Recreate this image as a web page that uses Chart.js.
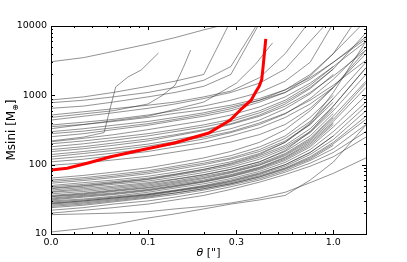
<!DOCTYPE html>
<html>
<head>
<meta charset="utf-8">
<script src="https://cdn.jsdelivr.net/npm/chart.js@4"></script>
<style>
  html, body { margin: 0; padding: 0; background: #fff; }
  canvas { display: block; }
</style>
</head>
<body>
<canvas id="myChart" width="407" height="262"></canvas>
<script>
// separation grid used by the gray tracks (arcsec)
const thetaGrid = [0.03, 0.045, 0.065, 0.1, 0.14, 0.2, 0.28, 0.4, 0.55, 0.75, 1.0, 1.5]

// gray tracks, Msini values on thetaGrid (shorter arrays = track ends early)
const upperTracks = [
    [3055, 3500, 4300, 5500, 6800, 8800, 11000],
    [857, 950, 1100, 1350, 1600, 2000, 12000],
    [783, 850, 950, 1100, 1300, 1650, 2600, 12000],
    [650, 700, 800, 950, 1100, 1350, 2000, 11000],
    [520, 580, 640, 720, 800, 950, 1150, 1800, 4000, 12000],
    [440, 500, 560, 650, 750, 900, 1100, 1500, 2400, 6000, 14000],
    [373, 410, 450, 520, 600, 700, 850, 1100, 1600, 3000, 11000],
    [353, 380, 420, 480, 550, 620, 720, 900, 1200, 1800, 3000, 7000],
    [299, 330, 370, 420, 480, 560, 680, 850, 1100, 1700, 3000, 6500],
    [280, 305, 340, 390, 450, 530, 640, 850, 1200, 2000, 4000, 12000],
    [253, 280, 320, 370, 430, 500, 600, 800, 1100, 1900, 4000, 20000],
    [214, 240, 270, 320, 370, 430, 520, 680, 950, 1500, 2600, 6000],
    [200, 220, 245, 280, 320, 375, 450, 600, 850, 1400, 2600],
    [181, 200, 225, 260, 300, 350, 420, 560, 800, 1300, 2400],
    [165, 182, 205, 235, 270, 320, 390, 520, 750, 1250, 2400, 8000],
    [154, 170, 190, 220, 260, 310, 380, 500, 700, 1100, 1900, 4500],
    [140, 155, 172, 198, 230, 270, 330, 440, 640, 1050, 2000],
    [130, 145, 160, 185, 215, 250, 300, 400, 550, 850, 1400, 3200],
    [120, 132, 147, 170, 198, 235, 290, 380, 540, 900, 1700, 5000],
    [110, 120, 135, 155, 180, 210, 260, 340, 480, 750, 1300],
    [98, 106, 117, 132, 152, 177, 212, 272, 380, 650, 1300, 4500]
]
const lowerTracks = [
    [64, 70, 78, 90, 105, 125, 155, 210, 320, 600, 1300, 4000],
    [60, 65, 72, 82, 95, 112, 135, 180, 260, 480, 1000],
    [57, 62, 68, 78, 90, 105, 125, 165, 240, 420, 900, 3000],
    [54, 59, 65, 74, 85, 100, 120, 155, 220, 380, 800],
    [50, 55, 60, 68, 78, 92, 110, 145, 210, 400, 1100, 6000],
    [48, 52, 57, 64, 73, 86, 102, 135, 190, 330, 700, 2500],
    [46, 50, 55, 62, 72, 85, 105, 140, 210, 380, 900],
    [45, 49, 54, 61, 70, 82, 98, 128, 180, 300, 650],
    [43, 47, 52, 58, 66, 77, 92, 120, 170, 290, 600, 2000],
    [41, 45, 49, 55, 62, 72, 86, 110, 155, 260, 550],
    [40, 43, 47, 53, 61, 71, 85, 110, 160, 300, 700, 2500],
    [38, 41, 45, 51, 58, 68, 80, 104, 145, 240, 500, 1600],
    [36, 39, 43, 49, 56, 65, 78, 100, 140, 230, 480],
    [35, 38, 42, 47, 54, 63, 76, 98, 135, 220, 450, 1500],
    [34.5, 37, 41, 46, 52, 60, 72, 92, 128, 210, 420, 1300],
    [33, 36, 39, 44, 50, 58, 70, 90, 125, 200, 400],
    [32, 35, 38, 43, 49, 57, 68, 88, 120, 190, 380],
    [31, 34, 37, 42, 48, 56, 67, 85, 115, 180, 350, 1000],
    [30, 32, 35, 40, 46, 53, 63, 80, 108, 165, 300, 800],
    [29, 31, 34, 38, 43, 50, 60, 76, 100, 150, 260],
    [28, 30, 33, 37, 42, 48, 57, 72, 95, 140, 230, 600],
    [27.5, 30, 33, 37, 42, 49, 58, 74, 100, 150, 260, 700],
    [27, 29, 32, 36, 41, 47, 55, 69, 90, 130, 210, 500],
    [26, 28, 31, 35, 39, 45, 53, 66, 86, 120, 190],
    [25, 27, 30, 34, 39, 45, 53, 67, 88, 125, 200, 450],
    [24, 26, 29, 33, 37, 43, 51, 63, 82, 115, 170, 380],
    [22, 24, 27, 30, 34, 40, 48, 60, 78, 105, 150, 300],
    [20, 22, 24, 27, 31, 36, 44, 56, 72, 95, 130, 250],
    [19, 19.5, 20, 21, 23, 25, 28, 33, 40, 55, 75, 125],
    [10.7, 12, 13.7, 17, 19.5, 23, 27, 31, 36, 60, 109, 373]
]
// tracks that turn up steeply and stop, as [theta, Msini]
const steepTracks = [
    [[0.03, 220], [0.045, 250], [0.058, 290], [0.063, 700], [0.067, 1320], [0.078, 1840], [0.092, 2320], [0.114, 4080]],
    [[0.03, 480], [0.065, 600], [0.1, 750], [0.12, 1000], [0.14, 1400], [0.155, 2500], [0.17, 4500]],
    [[0.03, 330], [0.1, 500], [0.2, 800], [0.3, 1500], [0.38, 2800], [0.47, 5700]]
]

// highlighted track
const redTheta = [0.03, 0.0367, 0.047, 0.063, 0.092, 0.139, 0.213, 0.278, 0.323, 0.36, 0.381, 0.398, 0.411, 0.418, 0.432]
const redMsini = [84, 89, 105, 130, 163, 205, 286, 440, 656, 850, 1117, 1350, 1700, 2600, 6500]

const xTicks = [0.03, 0.1, 0.3, 1.0]
const yTicks = [10, 100, 1000, 10000]
const xMinor = [0.04, 0.05, 0.06, 0.07, 0.08, 0.09, 0.2, 0.4, 0.5, 0.6, 0.7, 0.8, 0.9]
const yMinor = [20, 30, 40, 50, 60, 70, 80, 90, 200, 300, 400, 500, 600, 700, 800, 900, 2000, 3000, 4000, 5000, 6000, 7000, 8000, 9000]

const grayStyle = { borderColor: 'rgba(40,40,40,0.5)', borderWidth: 1, pointRadius: 0, fill: false, tension: 0 }

const datasets = []
upperTracks.concat(lowerTracks).forEach((vals) => {
    datasets.push({ ...grayStyle, data: vals.map((v, i) => ({ x: thetaGrid[i], y: v })) })
})
steepTracks.forEach((pts) => {
    datasets.push({ ...grayStyle, data: pts.map((p) => ({ x: p[0], y: p[1] })) })
})
datasets.push({
    borderColor: '#ff0000', borderWidth: 3, pointRadius: 0, fill: false, tension: 0, order: -1,
    data: redTheta.map((t, i) => ({ x: t, y: redMsini[i] }))
})

// frame, inward ticks and axis titles like the matplotlib original
const framePlugin = {
    id: 'frame',
    afterDatasetsDraw(chart) {
        const ctx = chart.ctx
        const a = chart.chartArea
        const xs = chart.scales.x
        const ys = chart.scales.y
        ctx.save()
        ctx.strokeStyle = '#000'
        ctx.lineWidth = 1
        ctx.beginPath()
        const tick = (vals, len, isX) => {
            vals.forEach((v) => {
                if (isX) {
                    const p = Math.round(xs.getPixelForValue(v)) + 0.5
                    ctx.moveTo(p, a.bottom); ctx.lineTo(p, a.bottom - len)
                    ctx.moveTo(p, a.top); ctx.lineTo(p, a.top + len)
                } else {
                    const p = Math.round(ys.getPixelForValue(v)) + 0.5
                    ctx.moveTo(a.left, p); ctx.lineTo(a.left + len, p)
                    ctx.moveTo(a.right, p); ctx.lineTo(a.right - len, p)
                }
            })
        }
        tick(xTicks, 4, true)
        tick(xMinor, 2, true)
        tick(yTicks, 4, false)
        tick(yMinor, 2, false)
        ctx.stroke()
        ctx.strokeRect(Math.round(a.left) + 0.5, Math.round(a.top) + 0.5, Math.round(a.right - a.left), Math.round(a.bottom - a.top))

        ctx.fillStyle = '#000'
        ctx.textBaseline = 'alphabetic'
        // x title
        ctx.font = 'italic 11px "DejaVu Sans"'
        const th = 'θ'
        ctx.font = '11px "DejaVu Sans"'
        const rest = ' ["]'
        const wRest = ctx.measureText(rest).width
        ctx.font = 'italic 11px "DejaVu Sans"'
        const wTh = ctx.measureText(th).width
        let x0 = (a.left + a.right) / 2 - (wTh + wRest) / 2
        ctx.textAlign = 'left'
        ctx.fillText(th, x0, 256)
        ctx.font = '11px "DejaVu Sans"'
        ctx.fillText(rest, x0 + wTh, 256)
        // y title
        ctx.translate(15, (a.top + a.bottom) / 2)
        ctx.rotate(-Math.PI / 2)
        ctx.font = '12px "DejaVu Sans"'
        const p1 = 'Msini [M'
        const w1 = ctx.measureText(p1).width
        ctx.font = '8px "DejaVu Sans"'
        const sub = '⊕'
        const w2 = ctx.measureText(sub).width
        ctx.font = '12px "DejaVu Sans"'
        const w3 = ctx.measureText(']').width
        let s = -(w1 + w2 + w3) / 2
        ctx.fillText(p1, s, 0)
        ctx.font = '8px "DejaVu Sans"'
        ctx.fillText(sub, s + w1, 3)
        ctx.font = '12px "DejaVu Sans"'
        ctx.fillText(']', s + w1 + w2, 0)
        ctx.restore()
    }
}

const ctx = document.getElementById('myChart').getContext('2d')
const myChart = new Chart(ctx, {
    type: 'line',
    data: { datasets: datasets },
    options: {
        responsive: false,
        animation: false,
        layout: { padding: { left: 0, top: 26, right: 41, bottom: 0 } },
        plugins: { legend: { display: false }, tooltip: { enabled: false } },
        scales: {
            x: {
                type: 'logarithmic',
                min: 0.03,
                max: 1.5,
                grid: { display: false, drawTicks: false },
                border: { display: false },
                afterBuildTicks: (scale) => { scale.ticks = xTicks.map((v) => ({ value: v })) },
                afterFit: (scale) => { scale.height = 28 },
                ticks: {
                    color: '#000',
                    padding: 3,
                    maxRotation: 0,
                    font: { family: 'DejaVu Sans', size: 9.5 },
                    callback: (v) => Number(v).toFixed(1)
                }
            },
            y: {
                type: 'logarithmic',
                min: 10,
                max: 10000,
                grid: { display: false, drawTicks: false },
                border: { display: false },
                afterBuildTicks: (scale) => { scale.ticks = yTicks.map((v) => ({ value: v })) },
                afterFit: (scale) => { scale.width = 51 },
                ticks: {
                    color: '#000',
                    padding: 4,
                    font: { family: 'DejaVu Sans', size: 9.5 },
                    callback: (v) => String(v)
                }
            }
        }
    },
    plugins: [framePlugin]
})
</script>
</body>
</html>
